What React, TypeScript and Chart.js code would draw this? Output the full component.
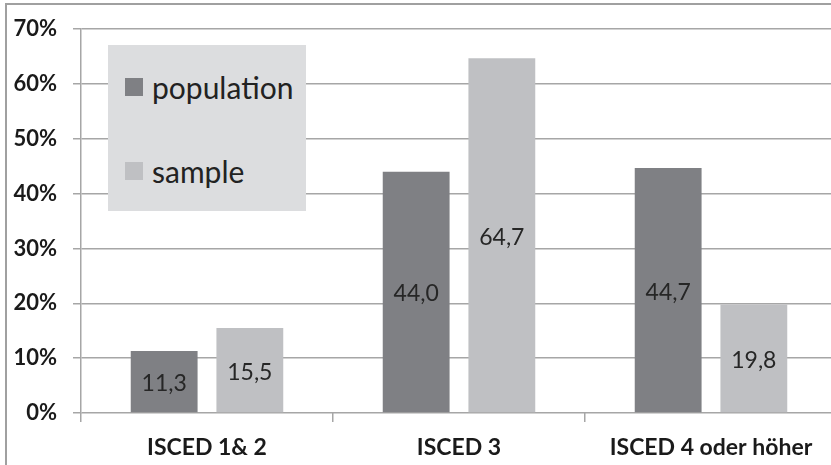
import React, { useEffect, useRef } from "react";
import { Chart, registerables } from "chart.js";

Chart.register(...registerables);

const categories = ["ISCED 1& 2", "ISCED 3", "ISCED 4 oder höher"];
const populationValues = [11.3, 44.0, 44.7];
const sampleValues = [15.5, 64.7, 19.8];
const seriesNames = ["population", "sample"];
const seriesColors = ["#7f8084", "#bfc0c3"];
const yTicks = [0, 10, 20, 30, 40, 50, 60, 70];

const FONT = "Lato, 'Open Sans', sans-serif";

const valueLabels = {
  id: "valueLabels",
  afterDatasetsDraw(chart: any) {
    const ctx = chart.ctx;
    ctx.save();
    ctx.font = `23px ${FONT}`;
    ctx.fillStyle = "#262626";
    ctx.textAlign = "center";
    ctx.textBaseline = "middle";
    chart.data.datasets.forEach((ds: any, i: number) => {
      const meta = chart.getDatasetMeta(i);
      meta.data.forEach((el: any, j: number) => {
        const v = ds.data[j] as number;
        const txt = v.toFixed(1).replace(".", ",");
        ctx.fillText(txt, el.x, (el.y + el.base) / 2 + 2);
      });
    });
    ctx.restore();
  },
};

export default function App() {
  const ref = useRef<HTMLCanvasElement | null>(null);

  useEffect(() => {
    if (!ref.current) return;
    const chart = new Chart(ref.current, {
      type: "bar",
      data: {
        labels: categories,
        datasets: [
          {
            label: seriesNames[0],
            data: populationValues,
            backgroundColor: seriesColors[0],
            categoryPercentage: 0.68,
            barPercentage: 0.78,
          },
          {
            label: seriesNames[1],
            data: sampleValues,
            backgroundColor: seriesColors[1],
            categoryPercentage: 0.68,
            barPercentage: 0.78,
          },
        ],
      },
      options: {
        responsive: false,
        animation: false,
        layout: { padding: { top: 28, right: 3, left: 0, bottom: 0 } },
        plugins: {
          legend: { display: false },
          tooltip: { enabled: false },
        },
        scales: {
          x: {
            grid: {
              display: true,
              drawOnChartArea: false,
              drawTicks: true,
              tickLength: 9,
              color: "#a6a6a6",
              lineWidth: 1.5,
              offset: true,
            },
            border: { display: false },
            ticks: {
              color: "#1a1a1a",
              font: { family: FONT, size: 23, weight: "bold" },
              padding: 12,
            },
            afterFit(scale: any) {
              scale.height = 52;
            },
          },
          y: {
            min: 0,
            max: 70,
            afterBuildTicks(scale: any) {
              scale.ticks = yTicks.map((v) => ({ value: v }));
            },
            grid: {
              color: "#a6a6a6",
              lineWidth: 1.5,
              tickLength: 8,
            },
            border: { display: true, color: "#a6a6a6", width: 1.5 },
            ticks: {
              color: "#1a1a1a",
              font: { family: FONT, size: 22, weight: "bold" },
              padding: 16,
              callback: (v: any) => `${v}%`,
            },
            afterFit(scale: any) {
              scale.width = 81;
            },
          },
        },
      },
      plugins: [valueLabels],
    });
    return () => chart.destroy();
  }, []);

  return (
    <div
      style={{
        position: "fixed",
        left: 0,
        top: 0,
        width: 831,
        height: 465,
        overflow: "hidden",
        background: "#fff",
      }}
    >
      <div
        style={{
          position: "absolute",
          left: 5,
          top: 3,
          width: 900,
          height: 600,
          border: "2px solid #a0a0a0",
        }}
      />
      <canvas
        ref={ref}
        width={840}
        height={465}
        style={{ position: "absolute", left: 0, top: 0, width: 840, height: 465 }}
      />
      <div
        style={{
          position: "absolute",
          left: 108,
          top: 45,
          width: 198,
          height: 166,
          background: "#dcdddf",
          fontFamily: FONT,
          fontSize: 30,
          color: "#222",
        }}
      >
        {seriesNames.map((name, i) => (
          <div
            key={name}
            style={{
              position: "absolute",
              left: 17,
              top: i === 0 ? 24 : 108,
              display: "flex",
              alignItems: "center",
              lineHeight: "36px",
            }}
          >
            <span
              style={{
                display: "inline-block",
                width: 18,
                height: 18,
                background: seriesColors[i],
                marginRight: 9,
              }}
            />
            <span>{name}</span>
          </div>
        ))}
      </div>
    </div>
  );
}
